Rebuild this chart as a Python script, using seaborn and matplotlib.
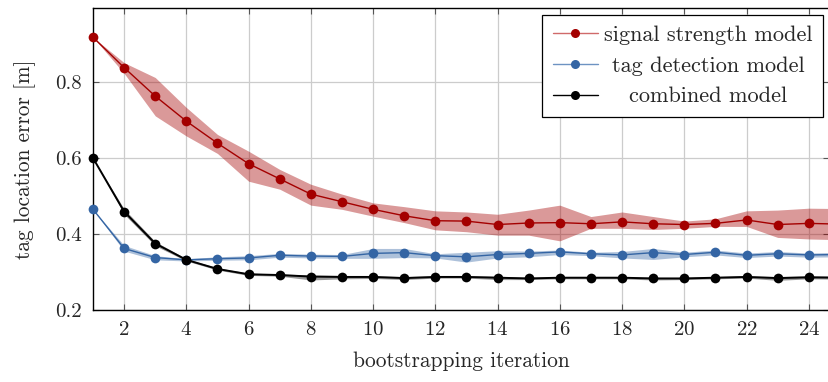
import numpy as np
import pandas as pd
import matplotlib
matplotlib.use("Agg")
import matplotlib.pyplot as plt
import seaborn as sns
from matplotlib.lines import Line2D
from matplotlib.ticker import MultipleLocator, FormatStrFormatter

# bootstrapping iterations
iterations = list(range(1, 26))

# signal strength model (mean, upper, lower)
signal_mean = [0.918, 0.838, 0.763, 0.697, 0.639, 0.585, 0.545, 0.505, 0.485, 0.465, 0.448, 0.435, 0.434,
               0.425, 0.429, 0.430, 0.427, 0.432, 0.427, 0.425, 0.428, 0.437, 0.425, 0.428, 0.426]
signal_upper = [0.918, 0.851, 0.812, 0.733, 0.662, 0.618, 0.570, 0.531, 0.505, 0.482, 0.472, 0.461, 0.458,
                0.452, 0.463, 0.476, 0.446, 0.458, 0.446, 0.434, 0.440, 0.461, 0.463, 0.468, 0.467]
signal_lower = [0.918, 0.823, 0.711, 0.658, 0.612, 0.539, 0.518, 0.476, 0.465, 0.447, 0.430, 0.411, 0.406,
                0.397, 0.397, 0.382, 0.415, 0.415, 0.412, 0.415, 0.420, 0.420, 0.391, 0.387, 0.385]

# tag detection model
tag_mean = [0.465, 0.362, 0.338, 0.332, 0.335, 0.337, 0.344, 0.342, 0.341, 0.349, 0.351, 0.343, 0.340,
            0.346, 0.349, 0.353, 0.348, 0.345, 0.351, 0.346, 0.352, 0.344, 0.348, 0.345, 0.346]
tag_upper = [0.465, 0.370, 0.343, 0.335, 0.340, 0.343, 0.349, 0.347, 0.346, 0.362, 0.362, 0.348, 0.352,
             0.356, 0.355, 0.358, 0.352, 0.354, 0.362, 0.352, 0.358, 0.350, 0.354, 0.350, 0.352]
tag_lower = [0.465, 0.355, 0.332, 0.329, 0.331, 0.332, 0.339, 0.337, 0.336, 0.336, 0.338, 0.337, 0.326,
             0.337, 0.340, 0.346, 0.343, 0.337, 0.333, 0.340, 0.345, 0.338, 0.342, 0.339, 0.340]

# combined model
comb_mean = [0.600, 0.459, 0.375, 0.332, 0.308, 0.294, 0.292, 0.288, 0.287, 0.287, 0.284, 0.287, 0.287,
             0.285, 0.283, 0.285, 0.285, 0.285, 0.283, 0.283, 0.285, 0.287, 0.284, 0.286, 0.285]
comb_upper = [0.600, 0.466, 0.380, 0.335, 0.311, 0.297, 0.295, 0.292, 0.291, 0.290, 0.288, 0.290, 0.290,
              0.289, 0.286, 0.288, 0.288, 0.288, 0.286, 0.286, 0.288, 0.290, 0.288, 0.290, 0.289]
comb_lower = [0.600, 0.452, 0.369, 0.329, 0.305, 0.291, 0.289, 0.279, 0.282, 0.283, 0.280, 0.284, 0.284,
              0.280, 0.280, 0.282, 0.282, 0.282, 0.279, 0.280, 0.282, 0.284, 0.278, 0.282, 0.281]

labels = ["signal strength model", "tag detection model", "combined model"]

sns.set_style("ticks")
plt.rcParams['font.family'] = ['cmr10', 'DejaVu Serif']
plt.rcParams['mathtext.fontset'] = 'cm'
plt.rcParams['axes.formatter.use_mathtext'] = True
plt.rcParams['font.size'] = 15

fig = plt.figure(figsize=(8.29, 3.82), dpi=100)
ax = fig.add_axes([0.1122, 0.1885, 0.8878, 0.7906])

series = [
    (signal_mean, signal_upper, signal_lower, "#a40000", "#d06a6a", 1.0),
    (tag_mean, tag_upper, tag_lower, "#3465a4", "#6d93c2", 1.0),
    (comb_mean, comb_upper, comb_lower, "#000000", "#000000", 1.4),
]

handles = []
for (m, up, lo, col, legcol, lw), lab in zip(series, labels):
    ax.fill_between(iterations, lo, up, color=col, alpha=0.4, linewidth=0, zorder=2)
    sns.lineplot(x=iterations, y=m, ax=ax, color=col, linewidth=lw, marker="o",
                 markersize=7, markeredgewidth=0, zorder=3)
    handles.append(Line2D([], [], color=legcol, linewidth=1.0, marker="o", markersize=6.5,
                          markerfacecolor=col, markeredgewidth=0))

# markers on the left axis edge are drawn whole
for line in ax.get_lines():
    line.set_clip_on(False)

ax.set_xlim(1, 24.65)
ax.set_ylim(0.2, 0.995)
ax.xaxis.set_major_locator(MultipleLocator(2))
ax.yaxis.set_major_locator(MultipleLocator(0.2))
ax.yaxis.set_major_formatter(FormatStrFormatter('%.1f'))
ax.grid(True, color="#cccccc", linewidth=0.9, zorder=0)
ax.set_axisbelow(True)
ax.tick_params(direction="in", top=True, right=True, length=4, width=0.8, color="#555555",
               labelsize=15, pad=8)
for s in ax.spines.values():
    s.set_linewidth(1.0)
    s.set_color("black")

ax.set_xlabel("bootstrapping iteration", fontsize=15.4, labelpad=9)
ax.set_ylabel("tag location error [m]", fontsize=15.4, labelpad=14)

leg = ax.legend(handles, labels, loc="upper right", bbox_to_anchor=(0.992, 0.977),
                fancybox=False, framealpha=1, edgecolor="black", fontsize=16,
                handlelength=2.03, handletextpad=0.27, labelspacing=0.5, borderpad=0.48,
                borderaxespad=0)
leg.get_frame().set_linewidth(0.9)
leg.set_zorder(5)

# center legend texts like the original
fig.canvas.draw()
renderer = fig.canvas.get_renderer()
texts = leg.get_texts()
widths = [t.get_window_extent(renderer).width for t in texts]
wmax = max(widths)
for t, w in zip(texts, widths):
    t.set_x((wmax - w) / 2)

fig.savefig("out.png", dpi=100)
